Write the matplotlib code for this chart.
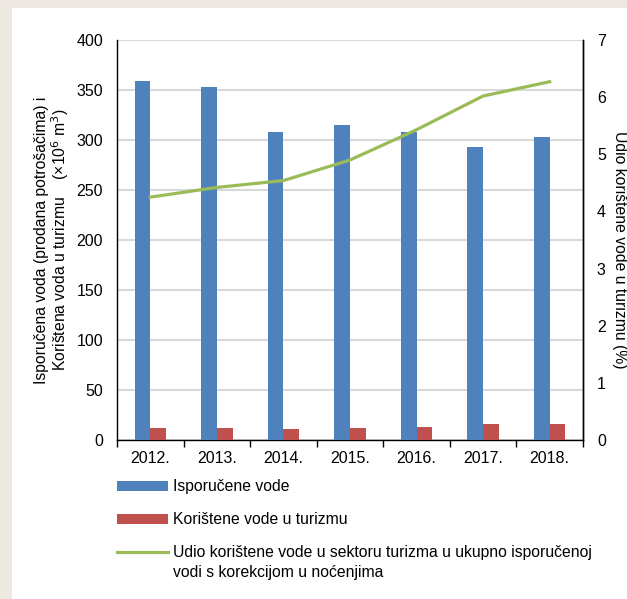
import matplotlib.pyplot as plt
import numpy as np
from matplotlib.patches import Rectangle
from matplotlib.lines import Line2D

plt.rcParams['font.family'] = ['Liberation Sans', 'DejaVu Sans']

years = ['2012.', '2013.', '2014.', '2015.', '2016.', '2017.', '2018.']
isporucene = [359, 353, 308, 315, 308, 293, 303]
turizam = [12.5, 12.5, 11, 12.5, 13.5, 16, 16]
udio = [4.25, 4.42, 4.54, 4.9, 5.43, 6.02, 6.27]

blue = '#4f81bd'
red = '#c0504d'
green = '#9bbb59'

W, H = 627, 599
fig = plt.figure(figsize=(W / 100, H / 100), dpi=100)
fig.patch.set_facecolor('#ede9e2')
fig.patches.append(Rectangle((12 / W, 0), 1, 1 - 8 / H, transform=fig.transFigure,
                             facecolor='white', edgecolor='none', zorder=-10))

ax = fig.add_axes([117 / W, 1 - 440 / H, (583 - 117) / W, 400 / H])
ax.set_facecolor('none')
x = np.arange(len(years))
bw = 0.235
ax.bar(x - bw / 2, isporucene, bw, color=blue, zorder=3)
ax.bar(x + bw / 2, turizam, bw, color=red, zorder=3)

ax.set_xlim(-0.5, len(years) - 0.5)
ax.set_ylim(0, 400)
ax.set_yticks(range(0, 401, 50))
ax.yaxis.grid(True, color='#d9d9d9', linewidth=1.5, zorder=0)
ax.set_axisbelow(True)
ax.tick_params(axis='y', length=0, labelsize=11.5, pad=10)
ax.set_xticks(x)
ax.set_xticklabels(years)
ax.set_xticks(np.arange(-0.5, len(years), 1), minor=True)
ax.tick_params(axis='x', which='major', length=0, labelsize=11.5, pad=8)
ax.tick_params(axis='x', which='minor', length=5, width=1, direction='out')
ax.spines['top'].set_visible(False)
for s in ['left', 'right', 'bottom']:
    ax.spines[s].set_linewidth(1)
    ax.spines[s].set_color('black')

ax2 = ax.twinx()
ax2.plot(x, udio, color=green, linewidth=2.3, zorder=4)
ax2.set_ylim(0, 7)
ax2.set_yticks(range(0, 8))
ax2.tick_params(axis='y', length=0, labelsize=11.5, pad=10)
ax2.spines['top'].set_visible(False)
ax2.spines['left'].set_visible(False)
ax2.spines['bottom'].set_visible(False)
ax2.spines['right'].set_linewidth(1)

fig.text(42 / W, 1 - 240 / H, 'Isporučena voda (prodana potrošačima) i',
         rotation=90, ha='center', va='center', fontsize=11.3)
fig.text(60 / W, 1 - 240 / H, 'Korištena voda u turizmu    (×10$^6$ m$^3$)',
         rotation=90, ha='center', va='center', fontsize=11.3)
fig.text(619 / W, 1 - 250 / H, 'Udio korištene vode u turizmu (%)',
         rotation=-90, ha='center', va='center', fontsize=11.3)

# legend drawn below the plot
fig.patches.append(Rectangle((117 / W, 1 - 491 / H), 51 / W, 10 / H,
                             transform=fig.transFigure, facecolor=blue, edgecolor='none'))
fig.patches.append(Rectangle((117 / W, 1 - 524 / H), 51 / W, 10 / H,
                             transform=fig.transFigure, facecolor=red, edgecolor='none'))
fig.lines.append(Line2D([117 / W, 168 / W], [1 - 552 / H, 1 - 552 / H],
                        transform=fig.transFigure, color=green, linewidth=2.3))
fig.text(173 / W, 1 - 486 / H, 'Isporučene vode', va='center', fontsize=11.3)
fig.text(173 / W, 1 - 519 / H, 'Korištene vode u turizmu', va='center', fontsize=11.3)
fig.text(173 / W, 1 - 552 / H, 'Udio korištene vode u sektoru turizma u ukupno isporučenoj',
         va='center', fontsize=11.3)
fig.text(173 / W, 1 - 572 / H, 'vodi s korekcijom u noćenjima', va='center', fontsize=11.3)

fig.savefig('out.png', dpi=100)
